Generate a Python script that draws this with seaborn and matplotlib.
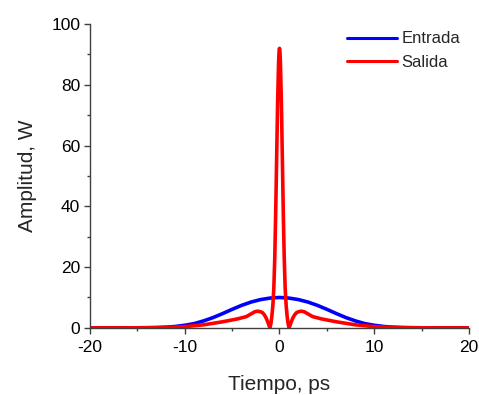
import matplotlib
matplotlib.use("Agg")
import matplotlib.pyplot as plt
from matplotlib.ticker import MultipleLocator
import pandas as pd
import seaborn as sns

# Input pulse (Entrada): power in W versus time in ps
t_in = [-20, -19, -18, -17, -16, -15, -14, -13, -12, -11, -10, -9, -8, -7, -6,
        -5, -4, -3, -2, -1, 0, 1, 2, 3, 4, 5, 6, 7, 8, 9, 10, 11, 12, 13, 14,
        15, 16, 17, 18, 19, 20]
p_in = [0, 0, 0, 0, 0, 0.02, 0.05, 0.1, 0.22, 0.45, 0.85, 1.4, 2.3, 3.4, 4.7,
        6.1, 7.4, 8.5, 9.3, 9.8, 10.0, 9.8, 9.3, 8.5, 7.4, 6.1, 4.7, 3.4, 2.3,
        1.4, 0.85, 0.45, 0.22, 0.1, 0.05, 0.02, 0, 0, 0, 0, 0]

# Output pulse (Salida): compressed central peak with side lobes
t_out = [-20, -18, -16, -15, -14, -13, -12, -11, -10, -9, -8, -7, -6, -5, -4.5,
         -4, -3.5, -3, -2.6, -2.3, -2, -1.8, -1.6, -1.4, -1.2, -1.1, -1.0, -0.9,
         -0.8, -0.7, -0.6, -0.5, -0.4, -0.3, -0.2, -0.1, -0.05, 0, 0.05, 0.1,
         0.2, 0.3, 0.4, 0.5, 0.6, 0.7, 0.8, 0.9, 1.0, 1.1, 1.2, 1.4, 1.6, 1.8,
         2, 2.3, 2.6, 3, 3.5, 4, 4.5, 5, 6, 7, 8, 9, 10, 11, 12, 13, 14, 15, 16,
         18, 20]
p_out = [0, 0, 0, 0.01, 0.03, 0.06, 0.13, 0.25, 0.4, 0.7, 1.0, 1.5, 2.0, 2.6,
         2.9, 3.3, 3.7, 4.6, 5.3, 5.5, 5.3, 5.0, 4.3, 3.2, 1.6, 0.7, 0.1, 1.5,
         4.0, 7.5, 13, 23, 38, 56, 74, 87, 90.7, 92, 90.7, 87, 74, 56, 38, 23,
         13, 7.5, 4.0, 1.5, 0.1, 0.7, 1.6, 3.2, 4.3, 5.0, 5.3, 5.5, 5.3, 4.6,
         3.7, 3.3, 2.9, 2.6, 2.0, 1.5, 1.0, 0.7, 0.4, 0.25, 0.13, 0.06, 0.03,
         0.01, 0, 0, 0]

series_names = ["Entrada", "Salida"]
x_ticks = [-20, -10, 0, 10, 20]
y_ticks = [0, 20, 40, 60, 80, 100]

sns.set_theme(style="ticks")
plt.rcParams["font.family"] = ["Liberation Sans", "DejaVu Sans"]
plt.rcParams["axes.unicode_minus"] = False

df_in = pd.DataFrame({"t": t_in, "p": p_in})
df_out = pd.DataFrame({"t": t_out, "p": p_out})

fig = plt.figure(figsize=(4.79, 3.95), dpi=100)
ax = fig.add_axes([0.188, 0.170, 0.791, 0.769])

sns.lineplot(data=df_in, x="t", y="p", ax=ax, color="#0000ff", lw=2.6,
             label=series_names[0], sort=False)
sns.lineplot(data=df_out, x="t", y="p", ax=ax, color="#ff0000", lw=2.6,
             label=series_names[1], sort=False)

ax.set_xlim(-20, 20)
ax.set_ylim(0, 100)
ax.set_xticks(x_ticks)
ax.set_yticks(y_ticks)
ax.xaxis.set_minor_locator(MultipleLocator(5))
ax.yaxis.set_minor_locator(MultipleLocator(10))

spine_color = "#404040"
for side in ("top", "right"):
    ax.spines[side].set_visible(False)
for side in ("left", "bottom"):
    ax.spines[side].set_color(spine_color)
    ax.spines[side].set_linewidth(1.0)
    ax.spines[side].set_clip_on(False)

ax.tick_params(which="major", direction="out", length=4.5, width=1.0,
               color=spine_color, labelsize=12.5, labelcolor="black")
ax.tick_params(axis="x", which="major", pad=4.5)
ax.tick_params(axis="y", which="major", pad=2.5)
ax.tick_params(which="minor", direction="out", length=2.5, width=1.0,
               color=spine_color)

ax.set_xlabel("Tiempo, ps", fontsize=15, labelpad=14)
ax.set_ylabel("Amplitud, W", fontsize=15, labelpad=10)

leg = ax.legend(loc="upper right", frameon=False, fontsize=12,
                handlelength=3.0, handletextpad=0.3, labelspacing=0.5,
                borderaxespad=0.0, bbox_to_anchor=(0.995, 0.998))
for line in leg.get_lines():
    line.set_linewidth(2.2)

fig.savefig("out.png", dpi=100)
